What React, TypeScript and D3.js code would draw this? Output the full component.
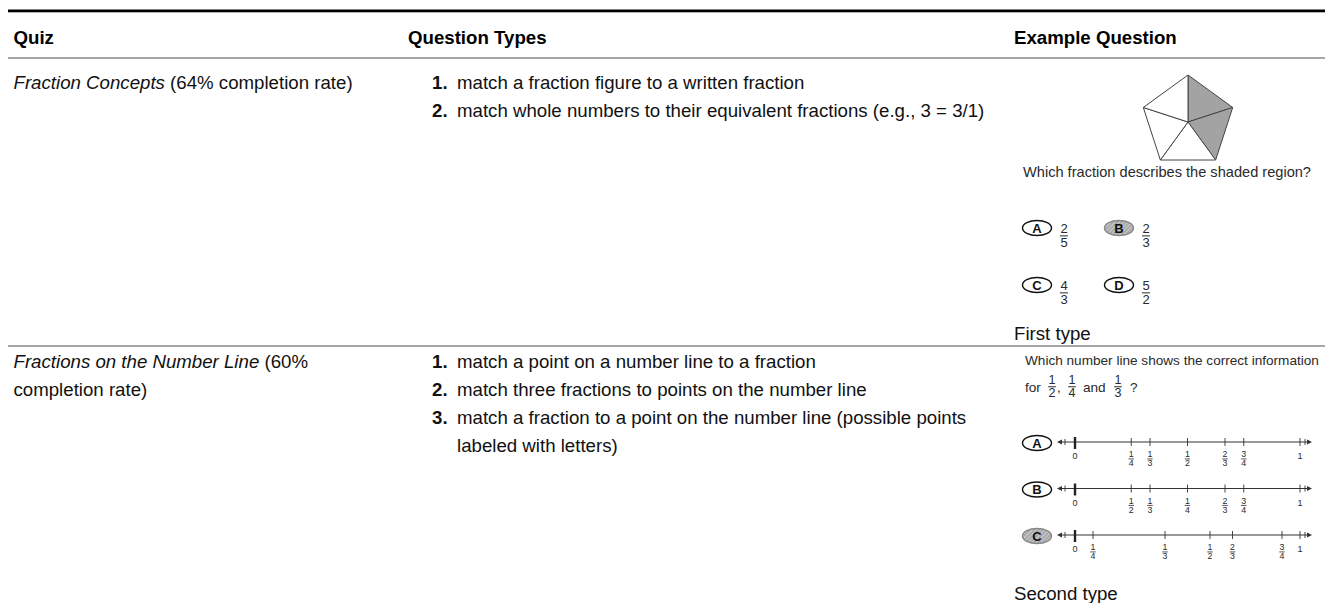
import React from "react";
import * as d3 from "d3";

// table text
const headers = ["Quiz", "Question Types", "Example Question"];
const quizNames = ["Fraction Concepts", "Fractions on the Number Line"];
const quizRates = [["(64% completion rate)"], ["(60%", "completion rate)"]];
const conceptTypes = [
  ["match a fraction figure to a written fraction"],
  ["match whole numbers to their equivalent fractions (e.g., 3 = 3/1)"],
];
const numberLineTypes = [
  ["match a point on a number line to a fraction"],
  ["match three fractions to points on the number line"],
  ["match a fraction to a point on the number line (possible points", "labeled with letters)"],
];
const exampleCaptions = ["First type", "Second type"];

// first example: pentagon figure
const pentagonShaded = [true, true, false, false, false];
const figureQuestion = "Which fraction describes the shaded region?";
const choiceLetters = ["A", "B", "C", "D"];
const choiceNums = [2, 2, 4, 5];
const choiceDens = [5, 3, 3, 2];
const choicePicked = "B";

// second example: number lines
const lineQuestion = "Which number line shows the correct information";
const promptNums = [1, 1, 1];
const promptDens = [2, 4, 3];
const lineLetters = ["A", "B", "C"];
const tickPositions = [
  [1 / 4, 1 / 3, 1 / 2, 2 / 3, 3 / 4],
  [1 / 4, 1 / 3, 1 / 2, 2 / 3, 3 / 4],
  [0.08, 0.4, 0.6, 0.7, 0.92],
];
const tickLabels = [
  ["1/4", "1/3", "1/2", "2/3", "3/4"],
  ["1/2", "1/3", "1/4", "2/3", "3/4"],
  ["1/4", "1/3", "1/2", "2/3", "3/4"],
];
const linePicked = "C";

const W = 1325;
const H = 603;
const FONT = "'Liberation Sans', Arial, Helvetica, sans-serif";
const INK = "#2a2a2a";

function Frac({ x, y, num, den, size }: { x: number; y: number; num: string | number; den: string | number; size: number }) {
  const bw = size * 0.62;
  return (
    <g fontSize={size} textAnchor="middle" fill={INK}>
      <text x={x} y={y}>{num}</text>
      <line x1={x - bw / 2} x2={x + bw / 2} y1={y + size * 0.22} y2={y + size * 0.22} stroke={INK} strokeWidth={size > 11 ? 1 : 0.8} />
      <text x={x} y={y + size * 1.05}>{den}</text>
    </g>
  );
}

function Bubble({ cx, cy, letter, picked }: { cx: number; cy: number; letter: string; picked: boolean }) {
  return (
    <g>
      <ellipse cx={cx} cy={cy} rx={14.5} ry={7.5} fill={picked ? "url(#hatch)" : "#fff"} stroke={picked ? "#888" : "#111"} strokeWidth={1.4} />
      <text x={cx} y={cy + 4.7} textAnchor="middle" fontSize={13} fontWeight="bold" fill="#111">{letter}</text>
    </g>
  );
}

export default function App() {
  const colX = [13.5, 408, 1014];
  const numX = 432;
  const itemX = 457;
  const rowTop = [89, 368];
  const lh = 28;

  // pentagon
  const pc = { x: 1188, y: 122 };
  const R = 47;
  const verts = d3.range(5).map((i) => {
    const a = ((-90 + 72 * i) * Math.PI) / 180;
    return [pc.x + R * Math.cos(a), pc.y + R * Math.sin(a)] as [number, number];
  });
  const poly = d3.line();

  // choices grid
  const choiceX = d3.scalePoint<number>().domain([0, 1]).range([1037, 1119]);
  const choiceY = d3.scalePoint<number>().domain([0, 1]).range([228, 285]);

  // number lines
  const nx = d3.scaleLinear().domain([0, 1]).range([1075, 1300]);
  const lineY = d3.scalePoint<string>().domain(lineLetters).range([442, 535]);

  const row1Lines = conceptTypes.flatMap((t, i) => t.map((s, j) => ({ n: i + 1, s, first: j === 0 })));
  const row2Lines = numberLineTypes.flatMap((t, i) => t.map((s, j) => ({ n: i + 1, s, first: j === 0 })));

  return (
    <svg width={W} height={H} style={{ position: "absolute", left: 0, top: 0 }} fontFamily={FONT}>
      <defs>
        <pattern id="hatch" width={3} height={3} patternUnits="userSpaceOnUse" patternTransform="rotate(45)">
          <rect width={3} height={3} fill="#a8a8a8" />
          <line x1={0} y1={0} x2={0} y2={3} stroke="#e6e6e6" strokeWidth={1.2} />
        </pattern>
      </defs>
      <rect width={W} height={H} fill="#fff" />

      {/* rules */}
      <rect x={8} y={9.5} width={W - 8} height={2.8} fill="#000" />
      <line x1={8} x2={W} y1={58} y2={58} stroke="#8a8a8a" strokeWidth={1.6} />
      <line x1={8} x2={W} y1={346} y2={346} stroke="#8a8a8a" strokeWidth={1.6} />

      {/* headers */}
      {headers.map((h, i) => (
        <text key={h} x={colX[i]} y={44} fontSize={18.67} fontWeight="bold" fill="#000">{h}</text>
      ))}

      {/* quiz names */}
      {quizNames.map((q, i) =>
        quizRates[i].map((r, j) => (
          <text key={q + j} x={colX[0]} y={rowTop[i] + j * lh} fontSize={18.67} fill="#111">
            {j === 0 ? (
              <>
                <tspan fontStyle="italic">{q}</tspan> {r}
              </>
            ) : (
              r
            )}
          </text>
        ))
      )}

      {/* question types */}
      {[row1Lines, row2Lines].map((rows, ri) =>
        rows.map((d, k) => (
          <g key={`${ri}-${k}`} fontSize={18.67} fill="#111">
            {d.first && (
              <text x={numX} y={rowTop[ri] + k * lh} fontWeight="bold">{d.n}.</text>
            )}
            <text x={itemX} y={rowTop[ri] + k * lh}>{d.s}</text>
          </g>
        ))
      )}

      {/* example 1: pentagon */}
      <g stroke="#444" strokeWidth={1} strokeLinejoin="round">
        {verts.map((v, i) => (
          <path key={i} d={poly([[pc.x, pc.y], v, verts[(i + 1) % 5], [pc.x, pc.y]]) + "Z"} fill={pentagonShaded[i] ? "#a3a3a3" : "#fff"} />
        ))}
      </g>
      <text x={1023} y={177} fontSize={14.6} fill={INK}>{figureQuestion}</text>
      {choiceLetters.map((c, i) => {
        const cx = choiceX(i % 2)!;
        const cy = choiceY(Math.floor(i / 2))!;
        return (
          <g key={c}>
            <Bubble cx={cx} cy={cy} letter={c} picked={c === choicePicked} />
            <Frac x={cx + 27} y={cy + 5} num={choiceNums[i]} den={choiceDens[i]} size={13} />
          </g>
        );
      })}
      <text x={colX[2]} y={340} fontSize={18.67} fill="#111">{exampleCaptions[0]}</text>

      {/* example 2: number lines */}
      <text x={1025} y={365} fontSize={13.6} fill={INK}>{lineQuestion}</text>
      <g fontSize={13.6} fill={INK}>
        <text x={1025} y={392}>for</text>
        <text x={1057} y={392}>,</text>
        <text x={1083} y={392}>and</text>
        <text x={1130} y={392}>?</text>
      </g>
      {promptNums.map((n, i) => (
        <Frac key={i} x={[1052, 1072, 1118][i]} y={384} num={n} den={promptDens[i]} size={12.5} />
      ))}
      {lineLetters.map((L, li) => {
        const y = lineY(L)!;
        return (
          <g key={L}>
            <Bubble cx={1037} cy={y + 1} letter={L} picked={L === linePicked} />
            <line x1={1059} x2={1310} y1={y} y2={y} stroke="#333" strokeWidth={1} />
            <path d={`M1057,${y} l5,-2.5 v5 Z`} fill="#333" />
            <path d={`M1312,${y} l-5,-2.5 v5 Z`} fill="#333" />
            <line x1={1065} x2={1065} y1={y - 3} y2={y + 3} stroke="#333" strokeWidth={0.9} />
            <line x1={1305} x2={1305} y1={y - 3} y2={y + 3} stroke="#333" strokeWidth={0.9} />
            <line x1={nx(0)} x2={nx(0)} y1={y - 5} y2={y + 7} stroke="#222" strokeWidth={2.4} />
            <line x1={nx(1)} x2={nx(1)} y1={y - 4} y2={y + 4} stroke="#333" strokeWidth={0.9} />
            <text x={nx(0)} y={y + 17} fontSize={9} textAnchor="middle" fill={INK}>0</text>
            <text x={nx(1)} y={y + 17} fontSize={9} textAnchor="middle" fill={INK}>1</text>
            {tickPositions[li].map((p, k) => {
              const [a, b] = tickLabels[li][k].split("/");
              return (
                <g key={k}>
                  <line x1={nx(p)} x2={nx(p)} y1={y - 4} y2={y + 4} stroke="#333" strokeWidth={0.9} />
                  <Frac x={nx(p)} y={y + 15} num={a} den={b} size={8.8} />
                </g>
              );
            })}
          </g>
        );
      })}
      <text x={colX[2]} y={600} fontSize={18.67} fill="#111">{exampleCaptions[1]}</text>
    </svg>
  );
}
